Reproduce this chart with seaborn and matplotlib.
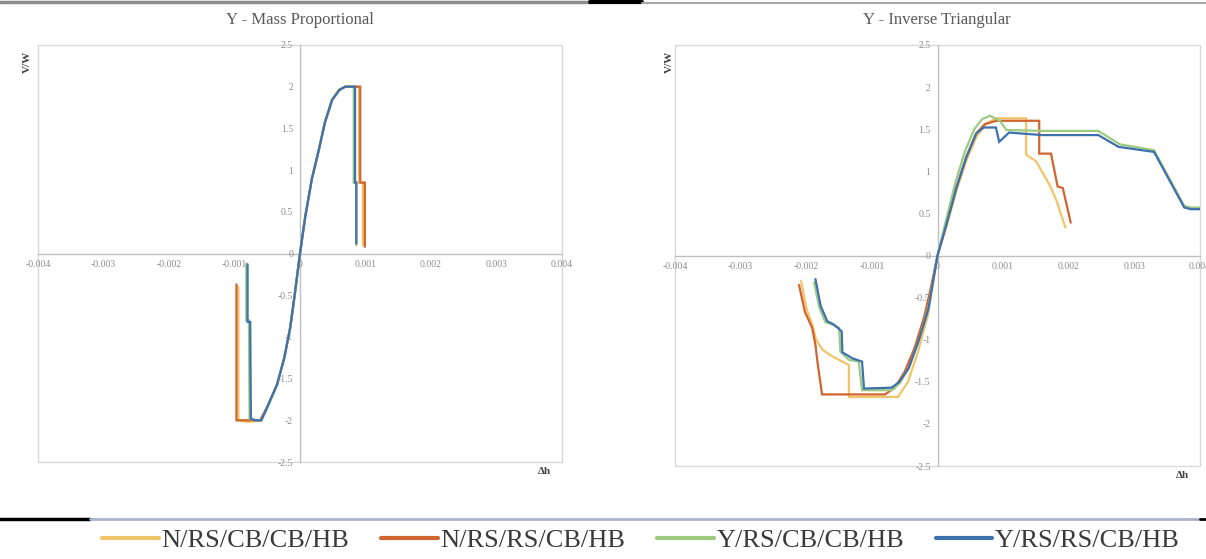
import matplotlib
matplotlib.use("Agg")
import matplotlib.pyplot as plt
from matplotlib.lines import Line2D
from matplotlib.patches import Rectangle
from matplotlib.ticker import FuncFormatter, MultipleLocator
import numpy as np
import pandas as pd
import seaborn as sns

# ---------------- data ----------------
series_names = ["N/RS/CB/CB/HB", "N/RS/RS/CB/HB", "Y/RS/CB/CB/HB", "Y/RS/RS/CB/HB"]
series_colors = ["#F2C46A", "#D2642E", "#9CCB80", "#3F70AE"]

panel_titles = ["Y - Mass Proportional", "Y - Inverse Triangular"]
x_ticks = [-0.004, -0.003, -0.002, -0.001, 0, 0.001, 0.002, 0.003, 0.004]
y_ticks = [-2.5, -2, -1.5, -1, -0.5, 0, 0.5, 1, 1.5, 2, 2.5]

# Left panel: Y - Mass Proportional
mp_yel_x = [-0.00094, -0.00094, -0.00080, -0.00060, -0.00050, -0.00035, -0.00024, -0.00015, -0.00008, 0.0,
            0.00008, 0.00018, 0.00029, 0.00038, 0.00049, 0.00060, 0.00070, 0.00090, 0.00090, 0.00096, 0.00096]
mp_yel_y = [-0.40, -2.00, -2.02, -2.00, -1.85, -1.58, -1.26, -0.90, -0.49, 0.0,
            0.45, 0.90, 1.26, 1.58, 1.85, 1.97, 2.00, 2.00, 0.85, 0.85, 0.10]
mp_ora_x = [-0.00097, -0.00097, -0.00082, -0.00061, -0.00050, -0.00035, -0.00024, -0.00015, -0.00008, 0.0,
            0.00008, 0.00018, 0.00029, 0.00038, 0.00049, 0.00060, 0.00069, 0.00092, 0.00092, 0.00099, 0.00099]
mp_ora_y = [-0.37, -2.00, -2.00, -2.00, -1.84, -1.57, -1.25, -0.89, -0.49, 0.0,
            0.44, 0.89, 1.25, 1.57, 1.84, 1.96, 2.00, 2.00, 0.85, 0.85, 0.08]
mp_grn_x = [-0.00082, -0.00082, -0.00078, -0.00077, -0.00068, -0.00059, -0.00049, -0.00035, -0.00024, -0.00015,
            -0.00008, 0.0, 0.00008, 0.00018, 0.00029, 0.00038, 0.00049, 0.00060, 0.00069, 0.00082, 0.00082,
            0.00086, 0.00086]
mp_grn_y = [-0.12, -0.80, -0.80, -1.98, -2.00, -2.00, -1.84, -1.57, -1.25, -0.89,
            -0.49, 0.0, 0.44, 0.89, 1.25, 1.57, 1.84, 1.96, 2.00, 2.00, 0.85,
            0.85, 0.10]
mp_blu_x = [-0.00080, -0.00080, -0.00076, -0.00075, -0.00068, -0.00059, -0.00050, -0.00035, -0.00024, -0.00015,
            -0.00008, 0.0, 0.00008, 0.00018, 0.00029, 0.00038, 0.00049, 0.00060, 0.00069, 0.00084, 0.00084,
            0.00086, 0.00086]
mp_blu_y = [-0.13, -0.82, -0.82, -1.98, -2.00, -2.00, -1.84, -1.57, -1.25, -0.89,
            -0.49, 0.0, 0.44, 0.89, 1.25, 1.57, 1.84, 1.96, 2.00, 2.00, 0.85,
            0.85, 0.12]

# Right panel: Y - Inverse Triangular
it_yel_x = [-0.00208, -0.00200, -0.00190, -0.00185, -0.00175, -0.00160, -0.00140, -0.00135, -0.00135, -0.00060,
            -0.00045, -0.00030, -0.00015, 0.0, 0.00015, 0.00030, 0.00045, 0.00060, 0.00075, 0.00090,
            0.00135, 0.00135, 0.00150, 0.00170, 0.00180, 0.00195]
it_yel_y = [-0.30, -0.62, -0.84, -1.00, -1.12, -1.20, -1.28, -1.30, -1.68, -1.68,
            -1.50, -1.15, -0.72, 0.0, 0.38, 0.80, 1.15, 1.42, 1.57, 1.63,
            1.63, 1.20, 1.12, 0.85, 0.68, 0.33]
it_ora_x = [-0.00211, -0.00202, -0.00191, -0.00186, -0.00183, -0.00176, -0.00080, -0.00065, -0.00050, -0.00035,
            -0.00020, -0.00010, 0.0, 0.00014, 0.00029, 0.00044, 0.00059, 0.00072, 0.00090, 0.00100,
            0.00155, 0.00155, 0.00173, 0.00183, 0.00191, 0.00203]
it_ora_y = [-0.35, -0.67, -0.86, -1.06, -1.26, -1.65, -1.65, -1.57, -1.38, -1.10,
            -0.72, -0.38, 0.0, 0.38, 0.81, 1.17, 1.45, 1.56, 1.60, 1.60,
            1.60, 1.21, 1.21, 0.82, 0.80, 0.39]
it_grn_x = [-0.00188, -0.00180, -0.00171, -0.00160, -0.00150, -0.00148, -0.00135, -0.00120, -0.00115, -0.00070,
            -0.00058, -0.00043, -0.00028, -0.00014, 0.0, 0.00013, 0.00027, 0.00042, 0.00056, 0.00068,
            0.00080, 0.00095, 0.00105, 0.00160, 0.00245, 0.00278, 0.00330, 0.00376, 0.00386, 0.00400]
it_grn_y = [-0.32, -0.62, -0.79, -0.82, -0.86, -1.14, -1.24, -1.26, -1.60, -1.60,
            -1.52, -1.32, -1.00, -0.62, 0.0, 0.42, 0.86, 1.24, 1.50, 1.62,
            1.66, 1.60, 1.49, 1.48, 1.48, 1.32, 1.25, 0.59, 0.57, 0.57]
it_blu_x = [-0.00186, -0.00178, -0.00168, -0.00158, -0.00146, -0.00145, -0.00130, -0.00115, -0.00112, -0.00070,
            -0.00058, -0.00044, -0.00029, -0.00014, 0.0, 0.00014, 0.00029, 0.00044, 0.00059, 0.00070,
            0.00089, 0.00094, 0.00109, 0.00160, 0.00245, 0.00276, 0.00330, 0.00376, 0.00386, 0.00400]
it_blu_y = [-0.28, -0.60, -0.78, -0.82, -0.90, -1.15, -1.22, -1.26, -1.58, -1.57,
            -1.50, -1.34, -1.02, -0.64, 0.0, 0.38, 0.81, 1.17, 1.45, 1.52,
            1.52, 1.35, 1.46, 1.43, 1.43, 1.29, 1.23, 0.57, 0.55, 0.55]

panels = [
    [(mp_yel_x, mp_yel_y), (mp_ora_x, mp_ora_y), (mp_grn_x, mp_grn_y), (mp_blu_x, mp_blu_y)],
    [(it_yel_x, it_yel_y), (it_ora_x, it_ora_y), (it_grn_x, it_grn_y), (it_blu_x, it_blu_y)],
]

# ---------------- style ----------------
sns.set_style("white")
plt.rcParams["font.family"] = ["Liberation Serif", "DejaVu Serif"]
plt.rcParams["axes.unicode_minus"] = False

fig = plt.figure(figsize=(12.06, 5.59), dpi=100)
W, H = 1206.0, 559.0

axes_px = [(38, 45, 562, 462), (675, 45, 1200, 466)]  # left, top, right, bottom in px
title_x_px = [300, 937]
vw_x_px = [27, 669]

palette = dict(zip(series_names, series_colors))

for p, (l, t, r, b) in enumerate(axes_px):
    ax = fig.add_axes([l / W, (H - b) / H, (r - l) / W, (b - t) / H])
    frames = []
    for name, (xs, ys) in zip(series_names, panels[p]):
        frames.append(pd.DataFrame({"x": xs, "y": ys, "series": name, "order": np.arange(len(xs))}))
    df = pd.concat(frames, ignore_index=True)
    sns.lineplot(data=df, x="x", y="y", hue="series", hue_order=series_names, palette=palette,
                 sort=False, estimator=None, units="series", legend=False, linewidth=1.6, ax=ax)
    ax.set_xlim(-0.004, 0.004)
    ax.set_ylim(-2.5, 2.5)
    ax.set_xlabel("")
    ax.set_ylabel("")
    ax.xaxis.set_major_locator(MultipleLocator(0.001))
    ax.yaxis.set_major_locator(MultipleLocator(0.5))
    ax.xaxis.set_major_formatter(FuncFormatter(lambda v, pos: "%g" % round(v, 4)))
    ax.yaxis.set_major_formatter(FuncFormatter(lambda v, pos: "%g" % round(v, 2)))
    for s in ["top", "right"]:
        ax.spines[s].set_visible(False)
    ax.spines["left"].set_position(("data", 0))
    ax.spines["bottom"].set_position(("data", 0))
    for s in ["left", "bottom"]:
        ax.spines[s].set_color("#BFBFBF")
        ax.spines[s].set_linewidth(1.0)
        ax.spines[s].set_zorder(0.5)
    ax.add_patch(Rectangle((0, 0), 1, 1, transform=ax.transAxes, fill=False,
                           edgecolor="#D9D9D9", linewidth=1.0, clip_on=False, zorder=0.4))
    ax.tick_params(axis="both", which="major", length=3, width=0.8, color="#BFBFBF",
                   labelsize=7, labelcolor="#8C8C8C", direction="out", pad=2)
    ax.patch.set_alpha(0)
    for line in ax.lines:
        line.set_solid_joinstyle("miter")
    fig.text(title_x_px[p] / W, (H - 20) / H, panel_titles[p], ha="center", va="center",
             fontsize=12, color="#595959")
    fig.text(vw_x_px[p] / W, (H - 62) / H, "V/W", ha="center", va="center", rotation=90,
             fontsize=8, color="#404040", fontweight="bold")
    fig.text((r - 18) / W, (H - 472 - (b - 462)) / H, "Δh", ha="center", va="center",
             fontsize=8, color="#404040", fontweight="bold")

# decorative page rules
fig.add_artist(Line2D([0, 590 / W], [1 - 1.5 / H] * 2, color="#8C8C8C", linewidth=2.5, transform=fig.transFigure))
fig.add_artist(Line2D([590 / W, 642 / W], [1 - 1.5 / H] * 2, color="#000000", linewidth=3, transform=fig.transFigure))
fig.add_artist(Line2D([642 / W, 1.0], [1 - 2.5 / H] * 2, color="#A6A6A6", linewidth=1.5, transform=fig.transFigure))
fig.add_artist(Line2D([0, 90 / W], [(H - 519) / H] * 2, color="#000000", linewidth=2.5, transform=fig.transFigure))
fig.add_artist(Line2D([90 / W, 1200 / W], [(H - 519) / H] * 2, color="#A9B4C8", linewidth=2, transform=fig.transFigure))
fig.add_artist(Line2D([1200 / W, 1.0], [(H - 519) / H] * 2, color="#000000", linewidth=2, transform=fig.transFigure))

handles = [Line2D([0], [0], color=c, linewidth=3) for c in series_colors]
leg = fig.legend(handles, series_names, loc="center", bbox_to_anchor=(641 / W, (H - 540) / H),
                 ncol=4, frameon=False, fontsize=19, handlelength=2.15, handletextpad=0.1,
                 columnspacing=1.2, borderaxespad=0, borderpad=0)
for txt in leg.get_texts():
    txt.set_color("#3A3A3A")

fig.savefig("out.png", dpi=100)
